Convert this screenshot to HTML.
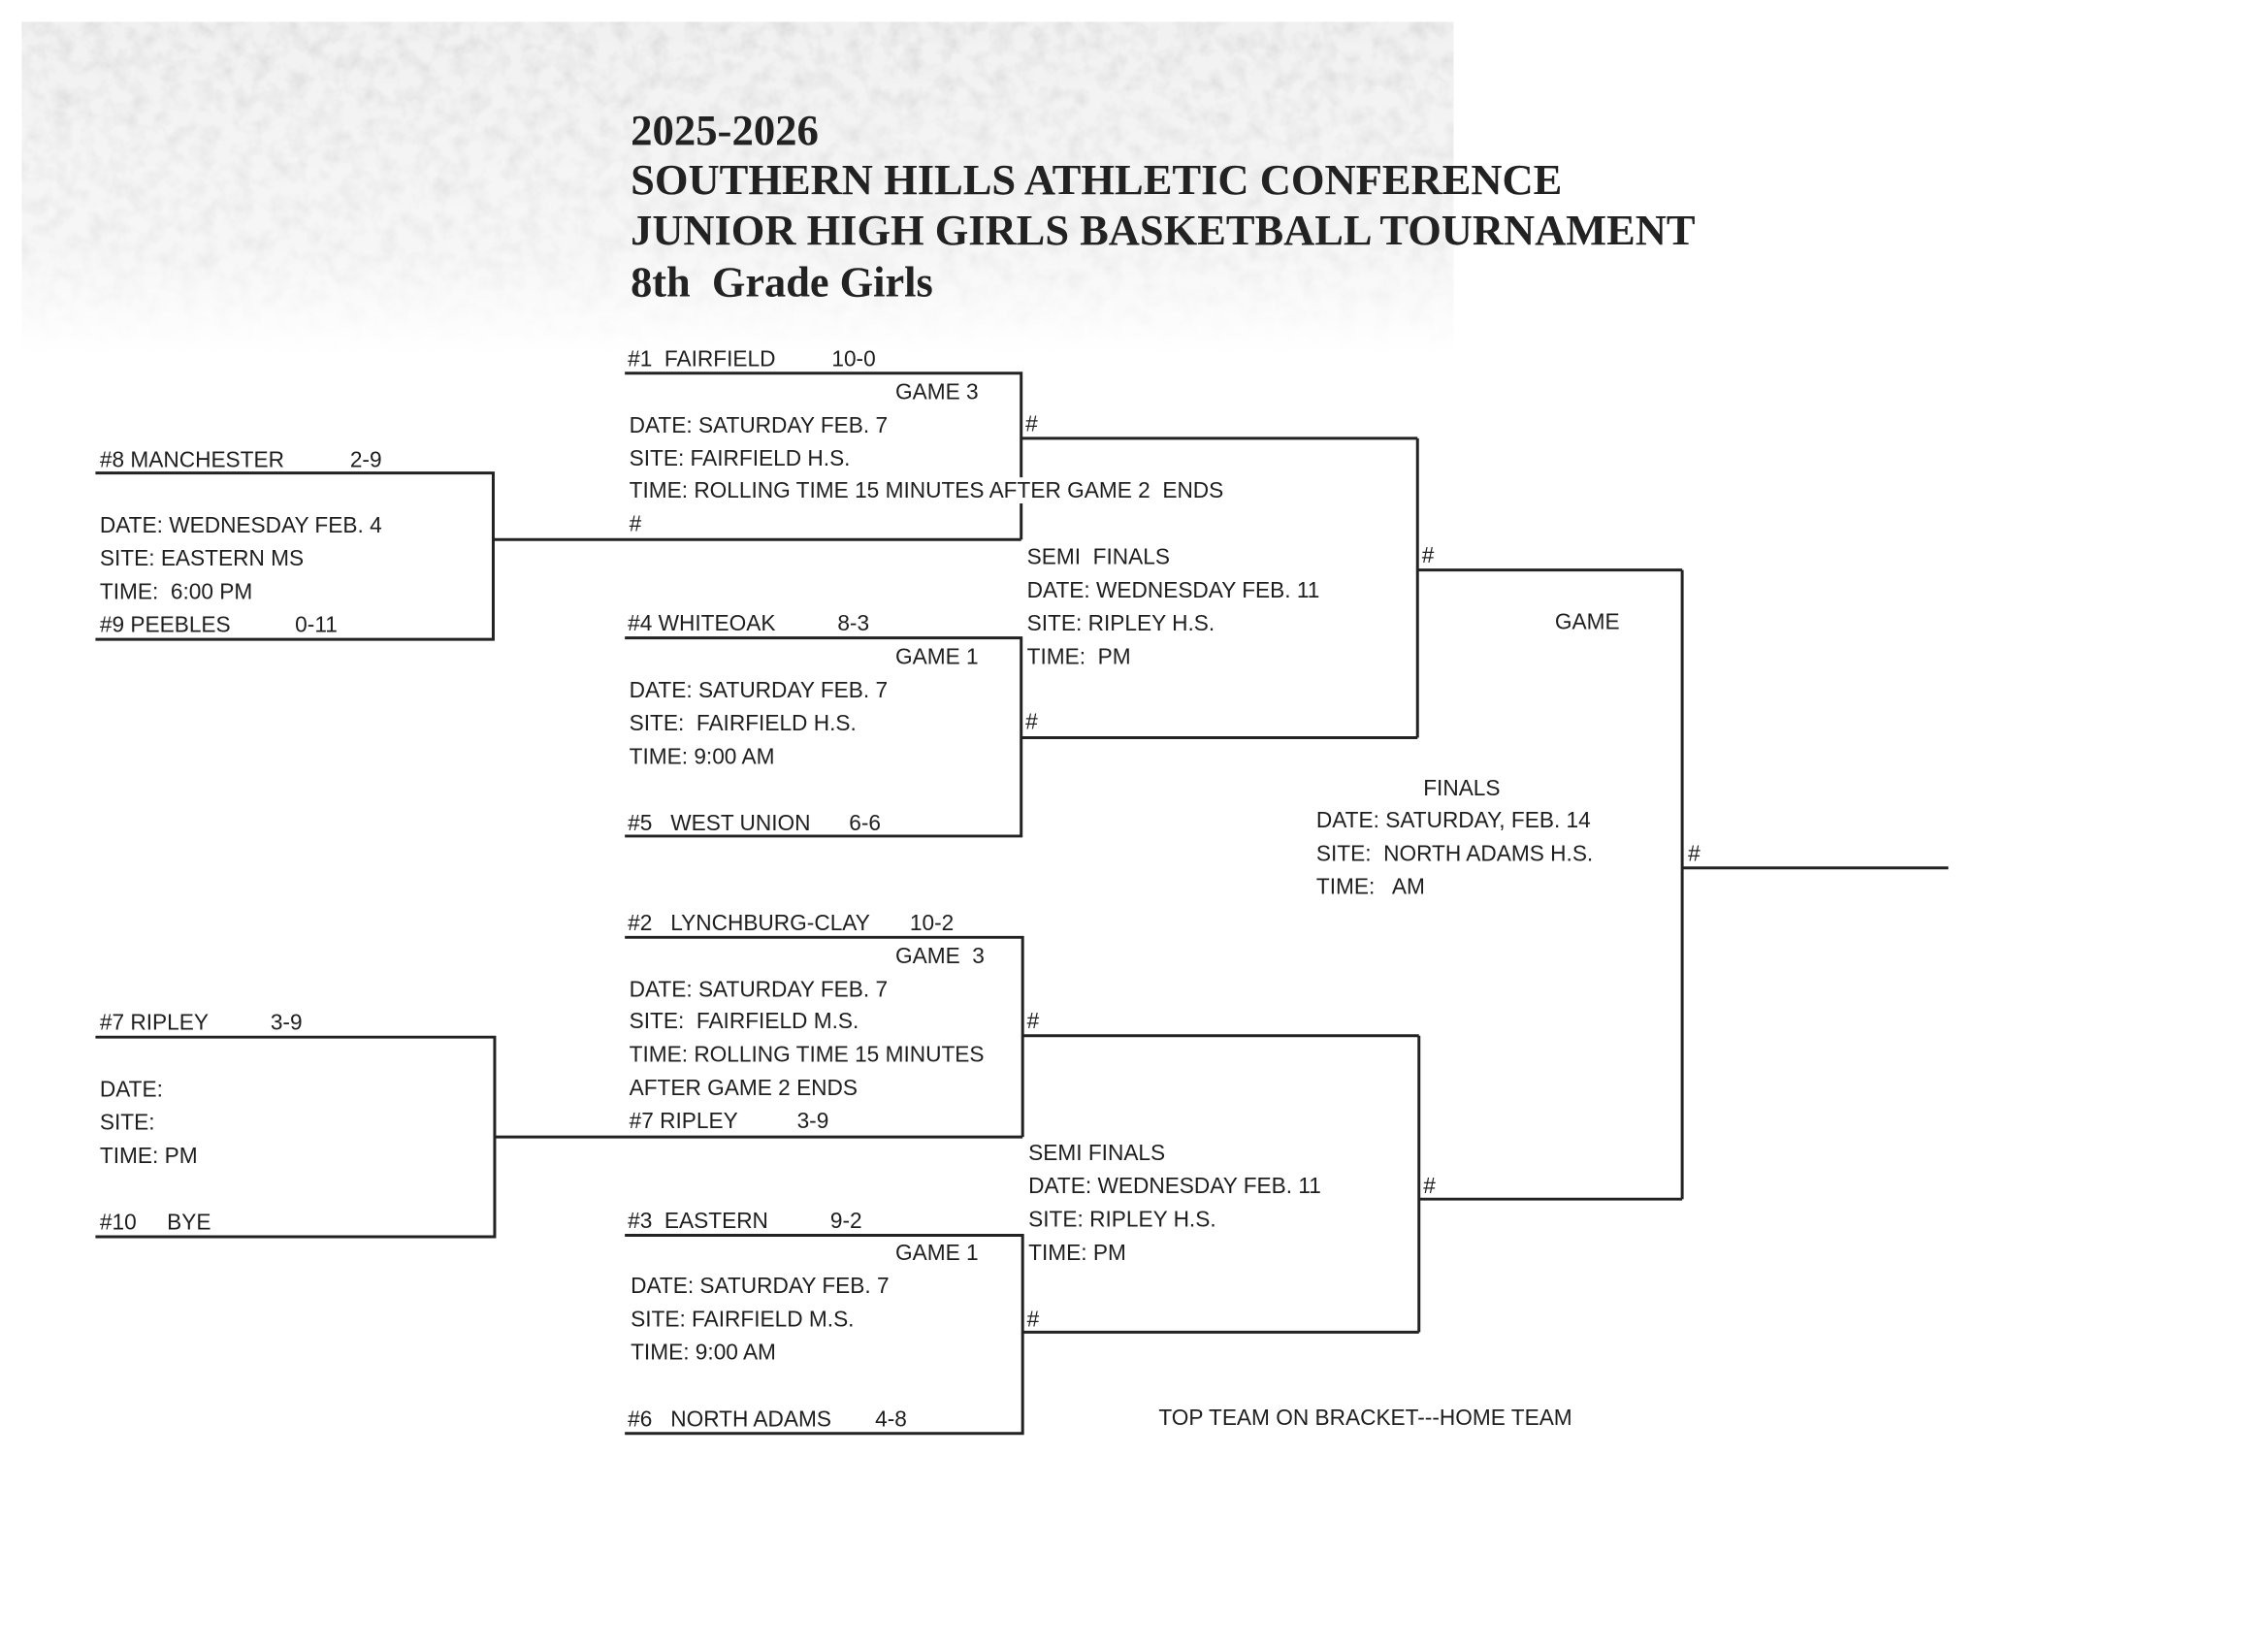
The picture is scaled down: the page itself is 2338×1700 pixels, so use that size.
<!DOCTYPE html>
<html><head><meta charset="utf-8"><style>
html,body{margin:0;padding:0;background:#fff;}
svg{display:block;}
text{font-family:"Liberation Sans",Arial,sans-serif;font-size:15.2px;fill:#1e1e1e;white-space:pre;}
.t{font-family:"Liberation Serif","Times New Roman",serif;font-weight:bold;font-size:30px;fill:#222;}
</style></head><body>
<svg width="2338" height="1700" viewBox="0 0 1568 1140" xmlns="http://www.w3.org/2000/svg" xml:space="preserve">
<defs>
<filter id="n" x="0" y="0" width="100%" height="100%">
<feTurbulence type="fractalNoise" baseFrequency="0.08" numOctaves="3" seed="3"/>
<feColorMatrix type="matrix" values="0 0 0 0 0.6  0 0 0 0 0.6  0 0 0 0 0.6  0 0 0 -2 1.2"/>
</filter>
<linearGradient id="fade" x1="0" y1="0" x2="0" y2="1">
<stop offset="0" stop-color="#fff" stop-opacity="1"/><stop offset="0.7" stop-color="#fff" stop-opacity="0.6"/><stop offset="1" stop-color="#fff" stop-opacity="0"/>
</linearGradient>
<mask id="m"><rect x="15" y="15" width="990" height="230" fill="url(#fade)"/></mask>
</defs>
<rect width="1568" height="1140" fill="#fff"/>
<g mask="url(#m)"><rect x="15" y="15" width="990" height="230" fill="#f1f1f1"/><rect x="15" y="15" width="990" height="230" filter="url(#n)" opacity="0.5"/></g>

<text class="t" x="436" y="100" textLength="130" lengthAdjust="spacingAndGlyphs">2025-2026</text>
<text class="t" x="436" y="134" textLength="644" lengthAdjust="spacingAndGlyphs">SOUTHERN HILLS ATHLETIC CONFERENCE</text>
<text class="t" x="436" y="169" textLength="736" lengthAdjust="spacingAndGlyphs">JUNIOR HIGH GIRLS BASKETBALL TOURNAMENT</text>
<text class="t" x="436" y="205" textLength="209" lengthAdjust="spacingAndGlyphs">8th  Grade Girls</text>

<g stroke="#222" stroke-width="2" fill="none">
<polyline points="66,327 341,327 341,442 66,442"/>
<line x1="341" y1="373" x2="706" y2="373"/>
<polyline points="432,258 706,258 706,373"/>
<line x1="706" y1="303" x2="980" y2="303"/>
<polyline points="432,441 706,441 706,578 432,578"/>
<line x1="706" y1="510" x2="980" y2="510"/>
<line x1="980" y1="303" x2="980" y2="510"/>
<line x1="980" y1="394" x2="1163" y2="394"/>
<line x1="1163" y1="394" x2="1163" y2="829"/>
<line x1="1163" y1="600" x2="1347" y2="600"/>
<polyline points="66,717 342,717 342,855 66,855"/>
<line x1="342" y1="786" x2="707" y2="786"/>
<polyline points="432,648 707,648 707,786"/>
<line x1="707" y1="716" x2="981" y2="716"/>
<polyline points="432,854 707,854 707,991 432,991"/>
<line x1="707" y1="921" x2="981" y2="921"/>
<line x1="981" y1="716" x2="981" y2="921"/>
<line x1="981" y1="829" x2="1163" y2="829"/>
</g>
<rect x="700" y="330" width="14" height="18" fill="#fff"/>

<text x="434" y="253">#1  FAIRFIELD</text><text x="575" y="253">10-0</text>
<text x="619" y="276">GAME 3</text>
<text x="435" y="299">DATE: SATURDAY FEB. 7</text>
<text x="435" y="322">SITE: FAIRFIELD H.S.</text>
<text x="435" y="344">TIME: ROLLING TIME 15 MINUTES AFTER GAME 2  ENDS</text>
<text x="435" y="367">#</text>
<text x="709" y="298">#</text>

<text x="69" y="323">#8 MANCHESTER</text><text x="242" y="323">2-9</text>
<text x="69" y="368">DATE: WEDNESDAY FEB. 4</text>
<text x="69" y="391">SITE: EASTERN MS</text>
<text x="69" y="414">TIME:  6:00 PM</text>
<text x="69" y="437">#9 PEEBLES</text><text x="204" y="437">0-11</text>

<text x="710" y="390">SEMI  FINALS</text>
<text x="710" y="413">DATE: WEDNESDAY FEB. 11</text>
<text x="710" y="436">SITE: RIPLEY H.S.</text>
<text x="710" y="459">TIME:  PM</text>
<text x="983" y="389">#</text>
<text x="1075" y="435">GAME</text>

<text x="434" y="436">#4 WHITEOAK</text><text x="579" y="436">8-3</text>
<text x="619" y="459">GAME 1</text>
<text x="435" y="482">DATE: SATURDAY FEB. 7</text>
<text x="435" y="505">SITE:  FAIRFIELD H.S.</text>
<text x="435" y="528">TIME: 9:00 AM</text>
<text x="709" y="504">#</text>
<text x="434" y="574">#5   WEST UNION</text><text x="587" y="574">6-6</text>

<text x="984" y="550">FINALS</text>
<text x="910" y="572">DATE: SATURDAY, FEB. 14</text>
<text x="910" y="595">SITE:  NORTH ADAMS H.S.</text>
<text x="910" y="618">TIME:   AM</text>
<text x="1167" y="595">#</text>

<text x="434" y="643">#2   LYNCHBURG-CLAY</text><text x="629" y="643">10-2</text>
<text x="619" y="666">GAME  3</text>
<text x="435" y="689">DATE: SATURDAY FEB. 7</text>
<text x="435" y="711">SITE:  FAIRFIELD M.S.</text>
<text x="435" y="734">TIME: ROLLING TIME 15 MINUTES</text>
<text x="435" y="757">AFTER GAME 2 ENDS</text>
<text x="435" y="780">#7 RIPLEY</text><text x="551" y="780">3-9</text>
<text x="710" y="711">#</text>

<text x="69" y="712">#7 RIPLEY</text><text x="187" y="712">3-9</text>
<text x="69" y="758">DATE:</text>
<text x="69" y="781">SITE:</text>
<text x="69" y="804">TIME: PM</text>
<text x="69" y="850">#10     BYE</text>

<text x="711" y="802">SEMI FINALS</text>
<text x="711" y="825">DATE: WEDNESDAY FEB. 11</text>
<text x="711" y="848">SITE: RIPLEY H.S.</text>
<text x="711" y="871">TIME: PM</text>
<text x="984" y="825">#</text>

<text x="434" y="849">#3  EASTERN</text><text x="574" y="849">9-2</text>
<text x="619" y="871">GAME 1</text>
<text x="436" y="894">DATE: SATURDAY FEB. 7</text>
<text x="436" y="917">SITE: FAIRFIELD M.S.</text>
<text x="436" y="940">TIME: 9:00 AM</text>
<text x="710" y="917">#</text>
<text x="434" y="986">#6   NORTH ADAMS</text><text x="605" y="986">4-8</text>

<text x="801" y="985">TOP TEAM ON BRACKET---HOME TEAM</text>
</svg>
</body></html>
